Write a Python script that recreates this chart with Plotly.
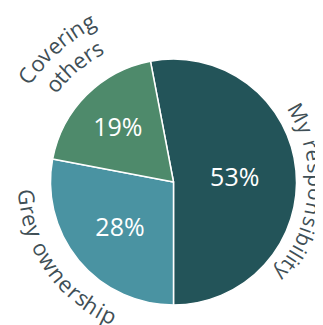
import math
import plotly.graph_objects as go

# ---- data ----
labels = ["My responsibility", "Grey ownership", "Covering others"]
values = [53, 28, 19]
colors = ["#235459", "#4a93a2", "#4e8a6b"]

# page has an 8px body margin: figure drawn from (8, 8)
OFF = 8
W, H = 315, 317
CX, CY, R = 173.5, 182, 123   # in screen pixels

# approximate Open Sans advance widths (em)
ADV = {' ': 532, 'a': 1139, 'b': 1255, 'c': 975, 'd': 1255, 'e': 1149, 'g': 1122,
       'h': 1257, 'i': 518, 'l': 518, 'm': 1905, 'n': 1257, 'o': 1237, 'p': 1255,
       'r': 836, 's': 977, 't': 723, 'v': 1026, 'w': 1593, 'y': 1028, 'M': 1853,
       'G': 1423, 'C': 1296}

LABEL_COLOR = "#3f4f56"
FONT = "Open Sans"


def px2paper(px, py):
    return (px - OFF) / W, 1 - (py - OFF) / H


def arc_text(text, a_first, a_last, r, outward, size=21):
    """Place characters of text along an arc (angles clockwise from 12 o'clock)."""
    adv = [ADV.get(c, 1100) / 2048.0 for c in text]
    centers = []
    s = 0.0
    for w in adv:
        centers.append(s + w / 2)
        s += w
    c0, c1 = centers[0], centers[-1]
    anns = []
    for ch, c in zip(text, centers):
        if ch == ' ':
            continue
        t = (c - c0) / (c1 - c0)
        ang = a_first + t * (a_last - a_first)
        rad = math.radians(ang)
        x, y = px2paper(CX + r * math.sin(rad), CY - r * math.cos(rad))
        rot = ang if outward else ang - 180
        rot = (rot + 180) % 360 - 180
        anns.append(dict(
            x=x, y=y, xref="paper", yref="paper",
            text=ch, showarrow=False, xanchor="center", yanchor="middle",
            textangle=rot,
            font=dict(family=FONT, size=size, color=LABEL_COLOR)))
    return anns


x0, y1 = px2paper(CX - R, CY - R)
x1, y0 = px2paper(CX + R, CY + R)

fig = go.Figure(go.Pie(
    labels=labels,
    values=values,
    sort=False,
    direction="clockwise",
    rotation=-10.8,
    marker=dict(colors=colors, line=dict(color="white", width=1.5)),
    texttemplate="%{percent:.0%}",
    textposition="inside",
    insidetextorientation="horizontal",
    textfont=dict(family=FONT, size=25, color="white"),
    hoverinfo="label+percent",
    domain=dict(x=[x0, x1], y=[y0, y1]),
    showlegend=False,
))

anns = []
anns += arc_text("My responsibility", 61.0, 130.0, 143, outward=True, size=21)
anns += arc_text("Grey ownership", 264.0, 206.0, 147, outward=False, size=22)
anns += arc_text("Covering", 306.0, 332.0, 182, outward=True, size=22)
anns += arc_text("others", 309.0, 330.0, 155, outward=True, size=22)

fig.update_layout(
    width=W, height=H, autosize=False,
    margin=dict(l=0, r=0, t=0, b=0),
    paper_bgcolor="white", plot_bgcolor="white",
    annotations=anns,
)

fig.write_html("out.html")
